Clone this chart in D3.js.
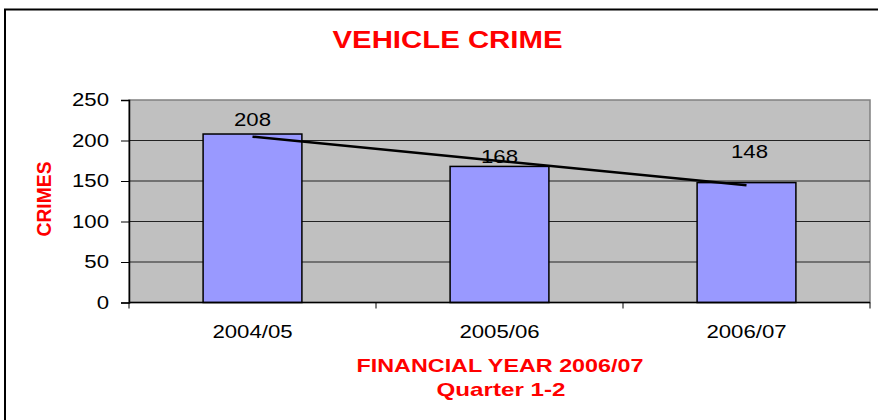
<!DOCTYPE html>
<html>
<head>
<meta charset="utf-8">
<script src="https://cdn.jsdelivr.net/npm/d3@7"></script>
<style>
  body { margin: 0; background: #fff; }
  text { font-family: "Liberation Sans", Arial, sans-serif; }
</style>
</head>
<body>
<svg></svg>
<script>
var svgWidth = 878;
var svgHeight = 420;

// chart data
var years = ["2004/05", "2005/06", "2006/07"];
var crimes = [208, 168, 148];
var trend = [204.7, 174.7, 144.7];
var yTicks = [0, 50, 100, 150, 200, 250];

var plot = { left: 129, right: 870, top: 100, bottom: 302.5 };

var svg = d3.select("svg")
    .attr("width", svgWidth)
    .attr("height", svgHeight);

// stretch text sideways like the original picture
function stretch(sel, sx) {
    sel.each(function () {
        var w = this.getComputedTextLength();
        d3.select(this)
            .attr("textLength", w * sx)
            .attr("lengthAdjust", "spacingAndGlyphs");
    });
}

// outer frame
svg.append("rect")
    .attr("x", 5).attr("y", 9.5)
    .attr("width", 900).attr("height", 450)
    .attr("fill", "none")
    .attr("stroke", "#000")
    .attr("stroke-width", 2);

var x = d3.scaleBand()
    .domain(years)
    .range([plot.left, plot.right])
    .paddingInner(0.6)
    .paddingOuter(0.3);

var y = d3.scaleLinear()
    .domain([0, 250])
    .range([plot.bottom, plot.top]);

var xb = d3.scaleLinear()
    .domain([0, years.length])
    .range([plot.left, plot.right]);

// plot background
svg.append("rect")
    .attr("x", plot.left).attr("y", plot.top)
    .attr("width", plot.right - plot.left)
    .attr("height", plot.bottom - plot.top)
    .attr("fill", "#c0c0c0")
    .attr("stroke", "#808080")
    .attr("stroke-width", 1.5);

// gridlines
svg.append("g")
    .selectAll("line")
    .data(yTicks.filter(function (d) { return d > 0 && d < 250; }))
    .enter()
    .append("line")
    .attr("x1", plot.left).attr("x2", plot.right)
    .attr("y1", function (d) { return y(d); })
    .attr("y2", function (d) { return y(d); })
    .attr("stroke", "#222")
    .attr("stroke-width", 1);

// y axis
var yAxis = svg.append("g")
    .attr("transform", "translate(" + plot.left + ",0)")
    .call(d3.axisLeft(y).tickValues(yTicks).tickSize(8).tickPadding(12));
yAxis.select(".domain").attr("stroke", "#000").attr("stroke-width", 1.5);
yAxis.selectAll(".tick line").attr("stroke", "#000");
yAxis.selectAll("text")
    .attr("font-size", 18.5)
    .attr("fill", "#000")
    .attr("font-family", "Liberation Sans, Arial, sans-serif");
stretch(yAxis.selectAll("text"), 1.2);

// bars
svg.append("g")
    .selectAll("rect")
    .data(crimes)
    .enter()
    .append("rect")
    .attr("x", function (d, i) { return x(years[i]); })
    .attr("y", function (d) { return y(d); })
    .attr("width", x.bandwidth())
    .attr("height", function (d) { return y(0) - y(d); })
    .attr("fill", "#9999ff")
    .attr("stroke", "#000")
    .attr("stroke-width", 1.5);

// x axis line and ticks
svg.append("line")
    .attr("x1", plot.left).attr("x2", plot.right)
    .attr("y1", plot.bottom).attr("y2", plot.bottom)
    .attr("stroke", "#000").attr("stroke-width", 1.5);
svg.append("g")
    .selectAll("line")
    .data(d3.range(years.length + 1))
    .enter()
    .append("line")
    .attr("x1", function (d) { return xb(d); })
    .attr("x2", function (d) { return xb(d); })
    .attr("y1", plot.bottom).attr("y2", plot.bottom + 6)
    .attr("stroke", "#000");

var xLabels = svg.append("g")
    .selectAll("text")
    .data(years)
    .enter()
    .append("text")
    .attr("x", function (d) { return x(d) + x.bandwidth() / 2; })
    .attr("y", 337.5)
    .attr("text-anchor", "middle")
    .attr("font-size", 18.5)
    .text(function (d) { return d; });
stretch(xLabels, 1.2);

// trend line
svg.append("path")
    .datum(trend)
    .attr("d", d3.line()
        .x(function (d, i) { return x(years[i]) + x.bandwidth() / 2; })
        .y(function (d) { return y(d); }))
    .attr("fill", "none")
    .attr("stroke", "#000")
    .attr("stroke-width", 2.5);

// value labels (lifted by hand as in the original)
var labelLift = [8.5, 3.5, 24.5];
var valLabels = svg.append("g")
    .selectAll("text")
    .data(crimes)
    .enter()
    .append("text")
    .attr("x", function (d, i) { return x(years[i]) + x.bandwidth() / 2 + (i == 2 ? 3 : 0); })
    .attr("y", function (d, i) { return y(d) - labelLift[i]; })
    .attr("text-anchor", "middle")
    .attr("font-size", 18.5)
    .attr("fill", "#000")
    .text(function (d) { return d; });
stretch(valLabels, 1.2);

// title
svg.append("text")
    .attr("x", 447.5).attr("y", 48.3)
    .attr("text-anchor", "middle")
    .attr("font-size", 23)
    .attr("font-weight", "bold")
    .attr("fill", "#ff0000")
    .attr("textLength", 230)
    .attr("lengthAdjust", "spacingAndGlyphs")
    .text("VEHICLE CRIME");

// y title
svg.append("text")
    .attr("transform", "translate(50.5,199) rotate(-90)")
    .attr("text-anchor", "middle")
    .attr("font-size", 21)
    .attr("font-weight", "bold")
    .attr("fill", "#ff0000")
    .attr("textLength", 75)
    .attr("lengthAdjust", "spacingAndGlyphs")
    .text("CRIMES");

// x title
svg.append("text")
    .attr("x", 500).attr("y", 371.7)
    .attr("text-anchor", "middle")
    .attr("font-size", 18.5)
    .attr("font-weight", "bold")
    .attr("fill", "#ff0000")
    .attr("textLength", 287)
    .attr("lengthAdjust", "spacingAndGlyphs")
    .text("FINANCIAL YEAR 2006/07");
svg.append("text")
    .attr("x", 501).attr("y", 396)
    .attr("text-anchor", "middle")
    .attr("font-size", 18.5)
    .attr("font-weight", "bold")
    .attr("fill", "#ff0000")
    .attr("textLength", 129)
    .attr("lengthAdjust", "spacingAndGlyphs")
    .text("Quarter 1-2");
</script>
</body>
</html>
